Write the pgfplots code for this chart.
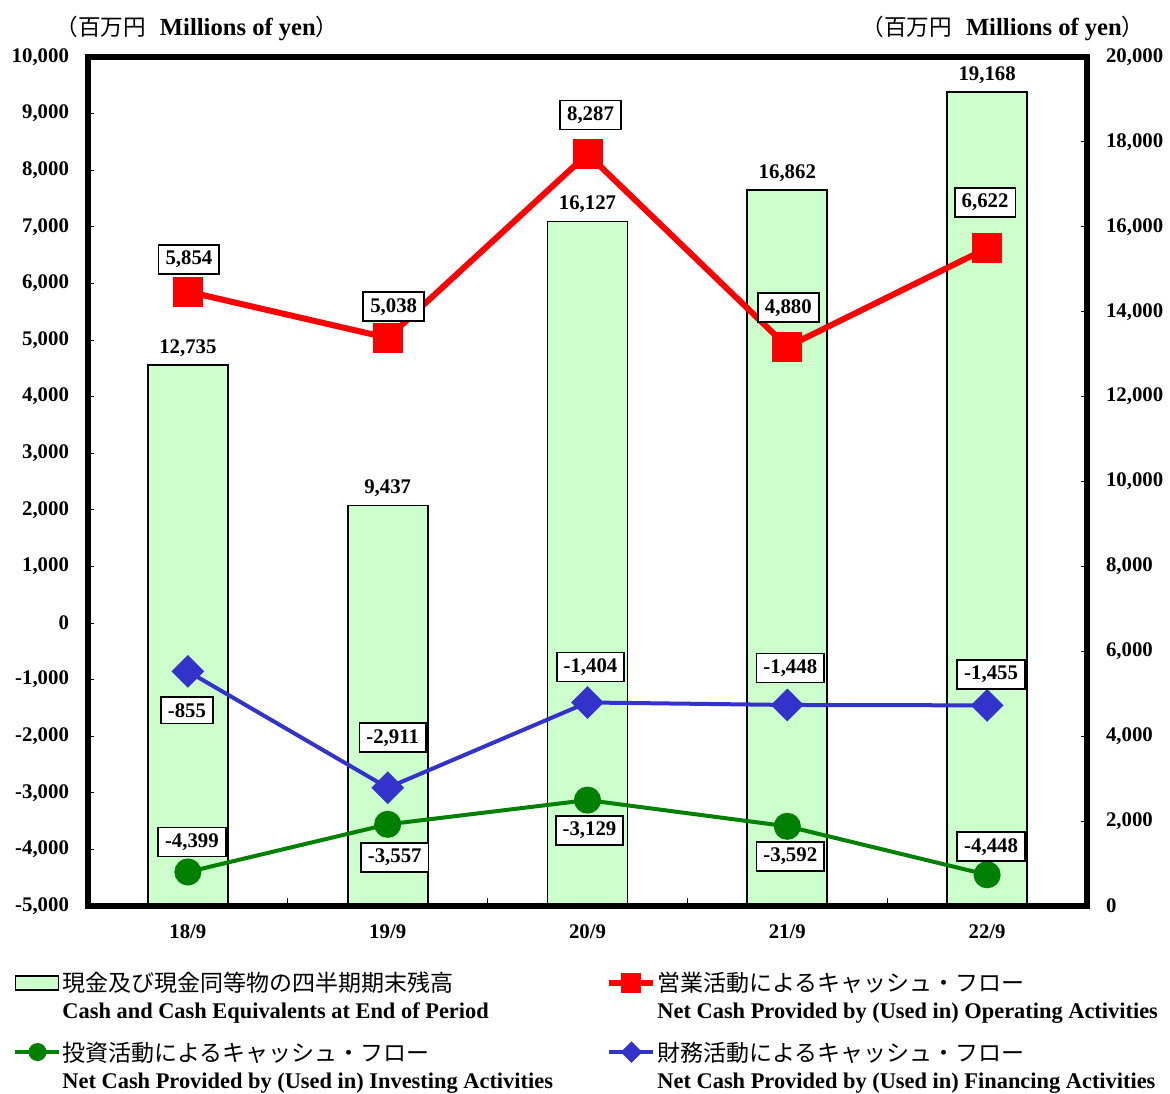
\documentclass[border=0pt]{standalone}
\usepackage{fontspec}
\setmainfont{Liberation Serif}
\newfontfamily\jp{Noto Sans CJK JP}
\usepackage{pgfplots}
\pgfplotsset{compat=1.18}
\usepackage{pgfplotstable}

\definecolor{barfill}{HTML}{CCFFCC}
\definecolor{opred}{HTML}{FF0000}
\definecolor{invgreen}{HTML}{008000}
\definecolor{finblue}{HTML}{3333CC}

\newcommand\lbl{\fontsize{10.4}{12.5}\selectfont\bfseries}

% bars: right axis
\pgfplotstableread{
x y
0 12735
1 9437
2 16127
3 16862
4 19168
}\cashdata

% lines: left axis, dx/dy = label offset (pt)
\pgfplotstableread{
x y dx dy
0 5854 0.5 16
1 5038 3 15.5
2 8287 1.5 19.5
3 4880 0.5 19.5
4 6622 -1 23
}\opdata

\pgfplotstableread{
x y dx dy
0 -4399 2 15
1 -3557 3.5 -16.5
2 -3129 1 -15
3 -3592 1.5 -15
4 -4448 2 14
}\invdata

\pgfplotstableread{
x y dx dy
0 -855 -0.5 -19.5
1 -2911 2.5 25
2 -1404 1.5 17.75
3 -1448 1.5 18.5
4 -1455 2 15.5
}\findata

\tikzset{boxlbl/.style={draw=black, fill=white, text=black, line width=0.9pt,
    font=\lbl, inner xsep=3.5pt, inner ysep=3pt}}

\pgfplotsset{
  /pgf/number format/.cd, 1000 sep={,}, assume math mode=true,
  /pgfplots/.cd,
  base/.style={
    scale only axis, width=499.5pt, height=424.5pt,
    at={(44pt,93.5pt)}, anchor=south west,
    xmin=-0.5, xmax=4.5, clip=false,
    scaled ticks=false,
    tick align=inside, major tick length=3pt,
    tick style={black, line width=0.5pt},
    ticklabel style={font=\lbl},
  },
  lineleg/.style={legend image code/.code={
    \draw[mark repeat=2, mark phase=2, ##1, mark size=#1, yshift=4.5pt]
      plot coordinates {(0pt,0pt) (11pt,0pt) (22pt,0pt)};}},
  barleg/.style={legend image code/.code={
    \draw[fill=barfill, draw=black, line width=0.9pt] (0pt,1pt) rectangle (21.5pt,8pt);}},
  boxed/.style={
    visualization depends on={\thisrow{dx} \as \ldx},
    visualization depends on={\thisrow{dy} \as \ldy},
    nodes near coords,
    every node near coord/.append style={boxlbl, anchor=center, xshift=\ldx pt, yshift=\ldy pt}},
}

\newcommand\entry[2]{\parbox[t]{270pt}{\fontsize{11.2}{13.5}\selectfont\bfseries
  {\mdseries\jp\fontsize{11.5}{13.5}\selectfont #1}\\ #2}}

\begin{document}
\begin{tikzpicture}
\path[use as bounding box] (0,0) rectangle (585pt,546.5pt);

\begin{axis}[base,
  ymin=0, ymax=20000,
  ytick={0,2000,...,20000},
  ytick pos=right, yticklabel pos=right,
  yticklabel style={anchor=west, xshift=6pt},
  xtick=\empty,
  axis line style={line width=2.6pt},
]
\addplot[ybar, bar width=40pt, fill=barfill, draw=black, line width=0.9pt,
  nodes near coords,
  every node near coord/.append style={font=\lbl, text=black, inner sep=4pt}]
  table[x=x, y=y] {\cashdata};
\end{axis}

\begin{axis}[base,
  ymin=-5000, ymax=10000,
  ytick={-5000,-4000,...,10000},
  ytick pos=left,
  yticklabel style={xshift=-6pt},
  xtick={0,1,2,3,4},
  xticklabels={18/9,19/9,20/9,21/9,22/9},
  xtick pos=bottom,
  xticklabel style={yshift=-6pt},
  major x tick style={draw=none},
  minor xtick={0.5,1.5,2.5,3.5},
  minor tick length=4pt,
  axis line style={line width=2.6pt},
  legend columns=2,
  legend style={draw=none, fill=none, inner sep=0pt, row sep=19.5pt,
    at={(-0.075,-0.0727)}, anchor=north west,
    cells={anchor=base west},
    /tikz/every odd column/.append style={column sep=-1.5pt}},
]
\addlegendimage{barleg}
\addlegendentry{\entry{現金及び現金同等物の四半期期末残高}{Cash and Cash Equivalents at End of Period}}

\addplot[opred, line width=3pt, mark=square*, mark size=6pt, lineleg=3.5pt, boxed]
  table[x=x, y=y] {\opdata};
\addlegendentry{\entry{営業活動によるキャッシュ・フロー}{Net Cash Provided by (Used in) Operating Activities}}

\addplot[invgreen, line width=2pt, mark=*, mark size=5.75pt, lineleg=3.5pt, boxed]
  table[x=x, y=y] {\invdata};
\addlegendentry{\entry{投資活動によるキャッシュ・フロー}{Net Cash Provided by (Used in) Investing Activities}}

\addplot[finblue, line width=2pt, mark=square*, mark size=4.8pt,
  mark options={rotate=45}, lineleg=2.8pt, boxed]
  table[x=x, y=y] {\findata};
\addlegendentry{\entry{財務活動によるキャッシュ・フロー}{Net Cash Provided by (Used in) Financing Activities}}
\end{axis}

\node[font=\fontsize{12.3}{14}\selectfont\bfseries] at (98.5pt,532.5pt)
  {{\mdseries\jp\fontsize{11.3}{14}\selectfont （百万円}\hspace{7pt}Millions of yen{\mdseries\jp\fontsize{11.3}{14}\selectfont ）}};
\node[font=\fontsize{12.3}{14}\selectfont\bfseries] at (501.5pt,532.5pt)
  {{\mdseries\jp\fontsize{11.3}{14}\selectfont （百万円}\hspace{7pt}Millions of yen{\mdseries\jp\fontsize{11.3}{14}\selectfont ）}};
\end{tikzpicture}
\end{document}
